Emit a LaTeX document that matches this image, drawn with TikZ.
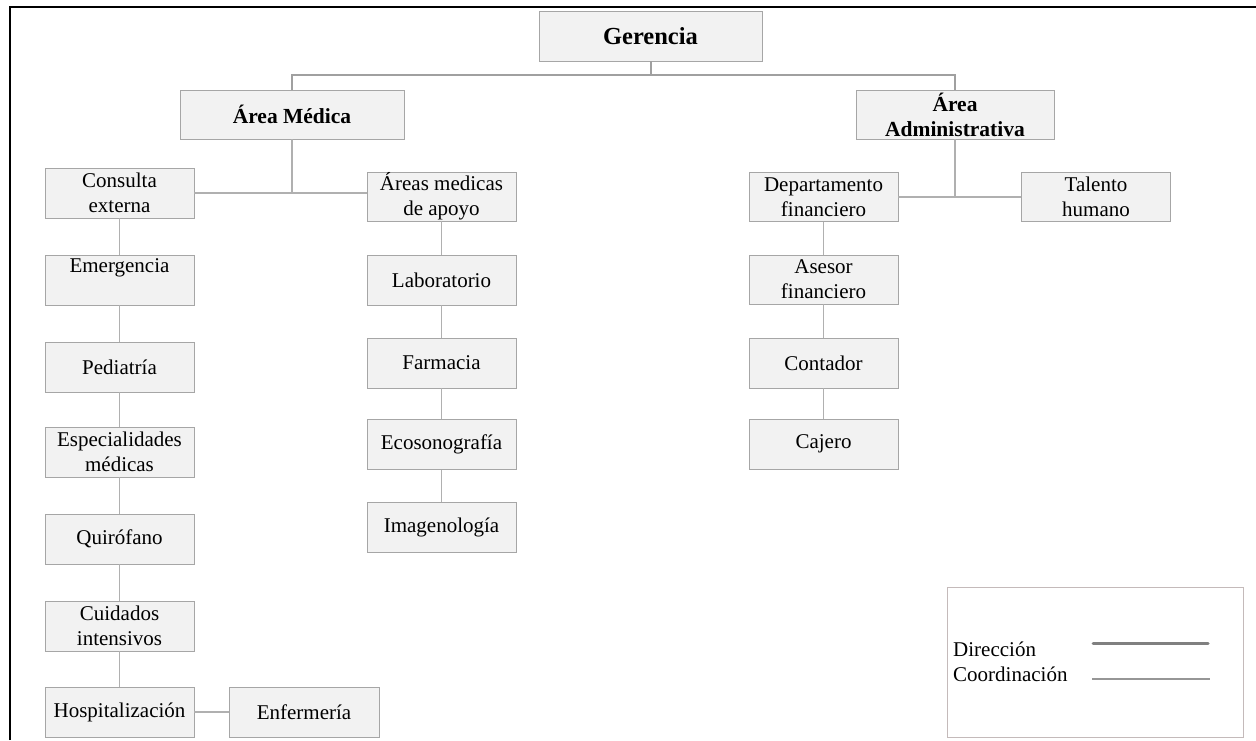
\documentclass[tikz,border=0pt]{standalone}
\usepackage{fontspec}
\setmainfont{Liberation Serif}
\begin{document}
\begin{tikzpicture}[x=1pt,y=-1pt,
  orgbox/.style={draw=boxborder, fill=boxfill, line width=0.9pt, inner sep=0pt,
    align=center, minimum width=149pt, minimum height=50pt,
    font=\fontsize{21}{25}\selectfont},
  headbox/.style={orgbox, font=\fontsize{21.5}{25}\selectfont\bfseries},
  dirline/.style={draw=dircol, line width=2pt},
  coordline/.style={draw=coordcol, line width=1.1pt},
  legtext/.style={anchor=base west, inner sep=0pt, font=\fontsize{21}{25}\selectfont},
]
\definecolor{boxborder}{RGB}{166,166,166}
\definecolor{boxfill}{RGB}{242,242,242}
\definecolor{dircol}{RGB}{160,160,160}
\definecolor{coordcol}{RGB}{176,176,176}
\definecolor{legborder}{RGB}{196,186,186}
\definecolor{legthick}{RGB}{128,128,128}
\definecolor{legthin}{RGB}{150,150,150}

\useasboundingbox (0,0) rectangle (1256,740);
\fill[white] (0,0) rectangle (1256,740);

% outer frame
\draw[black, line width=2.2pt] (10,740) -- (10,7) -- (1256,7);

% top level
\node[headbox, minimum width=223pt, font=\fontsize{24.5}{28}\selectfont\bfseries] (ger) at (650.5,36) {Gerencia};
\node[headbox, minimum width=224pt, minimum height=49pt] (med) at (292,114.5) {Área Médica};
\node[headbox, minimum width=198pt, minimum height=49pt] (adm) at (955,114.5) {Área\\Administrativa};

% medical area
\node[orgbox] (ce) at (119.5,193) {Consulta\\externa};
\node[orgbox, minimum height=49pt] (ama) at (441.5,196.5) {Áreas medicas\\de apoyo};
\node[orgbox, text height=14pt, text depth=30pt] (em) at (119.5,280) {Emergencia};
\node[orgbox] (ped) at (119.5,367) {Pediatría};
\node[orgbox] (esp) at (119.5,452) {Especialidades\\médicas};
\node[orgbox] (qui) at (119.5,539) {Quirófano};
\node[orgbox] (cui) at (119.5,626) {Cuidados\\intensivos};
\node[orgbox] (hos) at (119.5,712) {Hospitalización};
\node[orgbox, minimum width=150pt] (enf) at (304,712) {Enfermería};
\node[orgbox] (lab) at (441.5,280) {Laboratorio};
\node[orgbox] (far) at (441.5,363) {Farmacia};
\node[orgbox] (eco) at (441.5,444.5) {Ecosonografía};
\node[orgbox] (ima) at (441.5,527) {Imagenología};

% administrative area
\node[orgbox, minimum height=49pt] (df) at (823.5,197) {Departamento\\financiero};
\node[orgbox, minimum height=49pt] (th) at (1096,197) {Talento\\humano};
\node[orgbox, minimum height=49pt] (ase) at (823.5,279.5) {Asesor\\financiero};
\node[orgbox] (con) at (823.5,363) {Contador};
\node[orgbox] (caj) at (823.5,444) {Cajero};

% direction connectors
\coordinate (gj) at (650.5,75);
\draw[dirline] (ger.south) -- (gj);
\draw[dirline] (med.north) |- (gj) -| (adm.north);

% coordination connectors
\coordinate (mj) at (292,193);
\draw[coordline] (med.south) -- (mj);
\draw[coordline] (ce.east) -- (mj) -- (ama.west |- mj);
\draw[coordline] (ama.south) -- (ama.south |- lab.north);
\draw[coordline] (ce) -- (em);
\draw[coordline] (em) -- (ped);
\draw[coordline] (ped) -- (esp);
\draw[coordline] (esp) -- (qui);
\draw[coordline] (qui) -- (cui);
\draw[coordline] (cui) -- (hos);
\draw[coordline] (hos) -- (enf);
\draw[coordline] (lab) -- (far);
\draw[coordline] (far) -- (eco);
\draw[coordline] (eco) -- (ima);

\coordinate (aj) at (955,197);
\draw[coordline] (adm.south) -- (aj);
\draw[coordline] (df.east) -- (aj) -- (th.west);
\draw[coordline] (df) -- (ase);
\draw[coordline] (ase) -- (con);
\draw[coordline] (con) -- (caj);

% legend
\node[draw=legborder, line width=0.9pt, minimum width=296pt, minimum height=150pt, inner sep=0pt] (leg) at (1095,662) {};
\node[legtext] (ldir) at (953,656) {Dirección};
\node[legtext] (lcoo) at (953,681) {Coordinación};
\coordinate (d1) at (1093,643);
\coordinate (d2) at (1208,643);
\coordinate (c1) at (1092,679);
\coordinate (c2) at (1210,679);
\draw[draw=legthick, line width=3pt, line cap=round] (d1) -- (d2);
\draw[draw=legthin, line width=1.2pt] (c1) -- (c2);
\end{tikzpicture}
\end{document}
